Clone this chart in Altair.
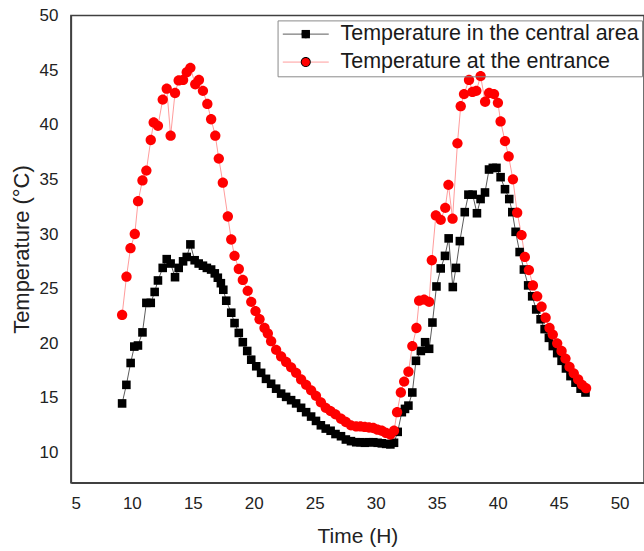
import altair as alt
import pandas as pd

series_names = ["Temperature in the central area", "Temperature at the entrance"]

central_time = [9.2, 9.55, 9.9, 10.2, 10.5, 10.87, 11.19, 11.55, 11.87, 12.14,
                12.53, 12.86, 13.18, 13.54, 13.84, 14.2, 14.5, 14.8, 15.15, 15.48,
                15.83, 16.15, 16.5, 16.8, 17.05, 17.3, 17.5, 17.74, 18.15, 18.42,
                18.77, 19.1, 19.46, 19.79, 20.2, 20.6, 21.0, 21.42, 21.83, 22.24,
                22.65, 23.06, 23.47, 23.88, 24.29, 24.7, 25.1, 25.5, 25.9, 26.3,
                26.7, 27.15, 27.55, 27.97, 28.4, 28.75, 29.1, 29.45, 29.8, 30.15,
                30.5, 30.85, 31.2, 31.5, 31.8, 32.14, 32.4, 32.68, 33.0, 33.3,
                33.7, 34.05, 34.38, 34.65, 34.98, 35.33, 35.68, 35.98, 36.32, 36.58,
                36.9, 37.3, 37.6, 37.95, 38.3, 38.6, 38.96, 39.29, 39.6, 39.9,
                40.24, 40.6, 40.95, 41.2, 41.47, 41.8, 42.15, 42.5, 42.83, 43.16,
                43.52, 43.85, 44.2, 44.52, 44.88, 45.24, 45.6, 45.97, 46.38, 46.8, 47.2]
central_temp = [14.5, 16.2, 18.2, 19.7, 19.8, 21.0, 23.7, 23.7, 24.7, 25.75,
                26.9, 27.7, 27.3, 26.05, 26.9, 27.5, 27.9, 29.05, 27.6, 27.3,
                27.1, 26.9, 26.75, 26.4, 26.0, 25.5, 24.9, 23.9, 22.8, 21.85,
                20.95, 20.1, 19.3, 18.5, 17.9, 17.3, 16.75, 16.3, 15.85, 15.4,
                15.1, 14.8, 14.5, 14.1, 13.7, 13.3, 12.9, 12.5, 12.2, 12.0,
                11.7, 11.5, 11.2, 11.05, 10.95, 10.95, 10.9, 10.95, 10.95, 10.9,
                10.85, 10.8, 10.75, 10.9, 11.9, 13.7, 14.0, 14.3, 15.5, 18.4,
                19.3, 20.1, 19.5, 21.9, 25.2, 26.85, 28.0, 29.6, 25.15, 26.9,
                29.35, 32.0, 33.6, 33.6, 31.9, 33.2, 33.8, 35.9, 36.05, 36.05,
                35.2, 34.1, 33.2, 32.0, 30.2, 28.35, 26.75, 25.3, 24.3, 23.1,
                22.2, 21.3, 20.5, 19.75, 19.1, 18.4, 17.7, 17.0, 16.4, 15.85, 15.5]

entrance_time = [9.2, 9.56, 9.89, 10.24, 10.51, 10.87, 11.19, 11.55, 11.79, 12.14,
                 12.53, 12.86, 13.18, 13.54, 13.84, 14.2, 14.5, 14.8, 15.2, 15.5,
                 15.83, 16.19, 16.5, 16.84, 17.13, 17.46, 17.87, 18.15, 18.42, 18.77,
                 19.1, 19.5, 19.79, 20.14, 20.47, 20.88, 21.15, 21.42, 21.83, 22.24,
                 22.65, 23.06, 23.47, 23.88, 24.29, 24.7, 25.1, 25.5, 25.9, 26.3,
                 26.7, 27.15, 27.55, 27.97, 28.4, 28.75, 29.1, 29.45, 29.8, 30.15,
                 30.5, 30.85, 31.2, 31.5, 31.75, 32.06, 32.33, 32.68, 33.0, 33.34,
                 33.56, 33.97, 34.38, 34.6, 34.93, 35.33, 35.7, 35.96, 36.3, 36.7,
                 36.97, 37.24, 37.65, 37.93, 38.25, 38.6, 38.97, 39.3, 39.7, 40.02,
                 40.24, 40.6, 40.9, 41.25, 41.6, 41.96, 42.23, 42.56, 42.89, 43.24,
                 43.6, 43.93, 44.25, 44.52, 44.88, 45.24, 45.56, 45.89, 46.24, 46.6,
                 46.92, 47.25]
entrance_temp = [22.6, 26.1, 28.7, 30.0, 33.0, 34.9, 35.8, 38.6, 40.2, 39.9,
                 42.3, 43.3, 39.0, 42.9, 44.05, 44.1, 44.8, 45.2, 43.7, 44.1,
                 43.1, 41.9, 40.5, 39.0, 36.9, 34.7, 31.6, 29.5, 28.0, 26.8,
                 25.8, 24.8, 23.8, 22.95, 22.2, 21.4, 20.9, 20.2, 19.4, 18.8,
                 18.3, 17.8, 17.3, 16.7, 16.2, 15.7, 15.2, 14.6, 14.1, 13.8,
                 13.5, 13.1, 12.8, 12.5, 12.4, 12.4, 12.35, 12.3, 12.25, 12.1,
                 12.0, 11.8, 11.65, 12.0, 13.7, 15.5, 16.5, 17.4, 19.75, 21.4,
                 23.9, 24.0, 23.8, 27.6, 31.7, 31.3, 32.4, 34.5, 31.4, 38.3,
                 41.7, 42.8, 44.1, 43.0, 43.1, 44.45, 42.1, 42.9, 42.8, 42.0,
                 40.3, 38.5, 37.1, 35.0, 31.95, 29.9, 27.9, 26.7, 25.3, 24.3,
                 23.35, 22.35, 21.4, 20.8, 20.0, 19.3, 18.6, 17.85, 17.25, 16.7,
                 16.2, 15.9]

x_ticks = [5, 10, 15, 20, 25, 30, 35, 40, 45, 50]
y_ticks = [10, 15, 20, 25, 30, 35, 40, 45, 50]

df = pd.concat([
    pd.DataFrame({"time": central_time, "temp": central_temp, "series": series_names[0]}),
    pd.DataFrame({"time": entrance_time, "temp": entrance_temp, "series": series_names[1]}),
], ignore_index=True)
df["series_line"] = df["series"]

FONT = "Liberation Sans"
SQUARE = "M-1,-1H1V1H-1Z"
CIRCLE = "M-1.2,0A1.2,1.2,0,1,0,1.2,0A1.2,1.2,0,1,0,-1.2,0Z"

x_enc = alt.X("time:Q",
              scale=alt.Scale(domain=[5, 52], nice=False, zero=False),
              axis=alt.Axis(values=x_ticks, title="Time (H)", ticks=False, grid=False,
                            labelPadding=13, labelFontSize=17, labelFont=FONT, labelColor="#222222",
                            titleFont=FONT, titleFontSize=21, titleFontWeight="normal", titleColor="#222222",
                            titleBaseline="alphabetic", titleY=60,
                            domainColor="#404040", domainWidth=1.5, labelOverlap=False))
y_enc = alt.Y("temp:Q",
              scale=alt.Scale(domain=[7.25, 50], nice=False, zero=False),
              axis=alt.Axis(values=y_ticks, title="Temperature (°C)", ticks=False, grid=False,
                            labelPadding=13, labelFontSize=17, labelFont=FONT, labelColor="#222222",
                            titleFont=FONT, titleFontSize=22, titleFontWeight="normal", titleColor="#222222",
                            titleBaseline="alphabetic", titleX=-42, titleY=234, titleAngle=270,
                            domainColor="#404040", domainWidth=1.5, labelOverlap=False))

common_legend = dict(orient="none", legendX=207, legendY=5, title=None, padding=3, rowPadding=5,
                     labelFont=FONT, labelFontSize=21.5, labelLimit=500, labelOffset=24, symbolOffset=14.5)

lines = alt.Chart(df).mark_line(strokeWidth=1).encode(
    x=x_enc, y=y_enc,
    stroke=alt.Stroke("series_line:N", sort=series_names,
                      scale=alt.Scale(range=["#5a5a5a", "#ff9c9c"]),
                      legend=alt.Legend(symbolType="M-4.6,0H4.6", symbolSize=100, symbolStrokeWidth=1,
                                        strokeColor="#8a8a8a", labelColor="#1a1a1a",
                                        labelExpr="datum.label + '    '", **common_legend)),
)

pt_legend = alt.Legend(symbolSize=70, symbolStrokeWidth=0, labelOpacity=0, **common_legend)
points = alt.Chart(df).mark_point(filled=True, size=74, opacity=1).encode(
    x=x_enc, y=y_enc,
    fill=alt.Fill("series:N", sort=series_names,
                  scale=alt.Scale(range=["#000000", "#ff0000"]), legend=pt_legend),
    shape=alt.Shape("series:N", sort=series_names,
                    scale=alt.Scale(range=[SQUARE, CIRCLE]), legend=pt_legend),
)

chart = alt.layer(lines, points).properties(
    width=574, height=468,
    padding={"left": 71, "top": 15, "right": 0, "bottom": 68},
    autosize=alt.AutoSizeParams(type="none"),
).configure_view(stroke="#404040", strokeWidth=1.5)

chart.save("out.html", embed_options={"renderer": "svg", "actions": False})
